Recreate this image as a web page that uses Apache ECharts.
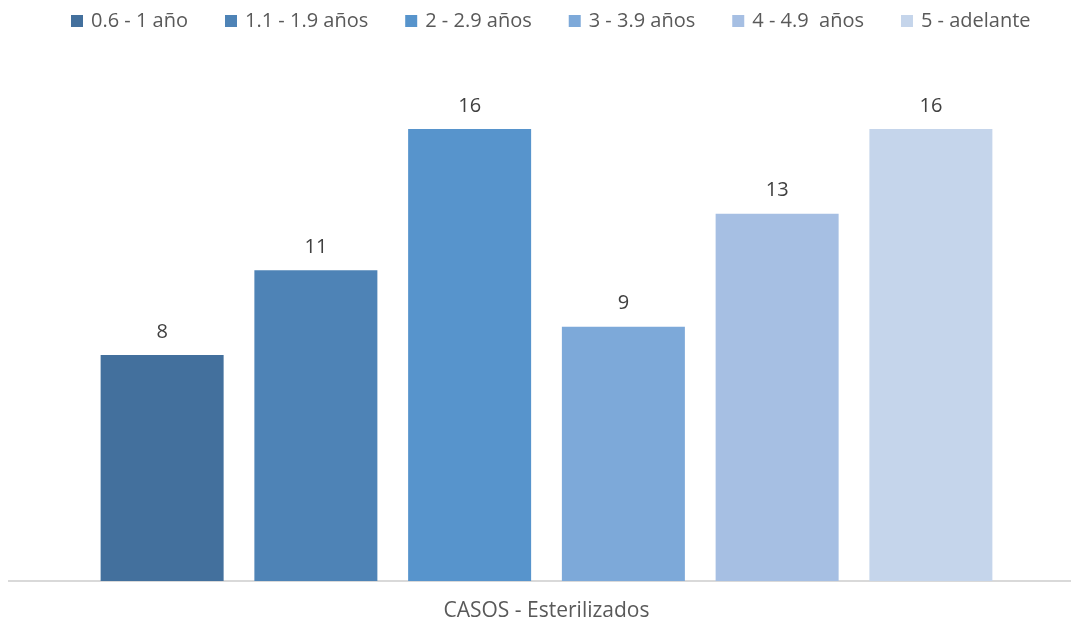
<!DOCTYPE html>
<html>
<head>
<meta charset="utf-8">
<script src="https://cdn.jsdelivr.net/npm/echarts@6/dist/echarts.min.js"></script>
<style>
  html, body { margin: 0; padding: 0; background: #ffffff; }
  #chart { width: 1071px; height: 626px; }
</style>
</head>
<body>
<div id="chart"></div>
<script>
// Esterilizaciones por grupo de edad
const categories = ['CASOS - Esterilizados'];
const groupNames = ['0.6 - 1 año', '1.1 - 1.9 años', '2 - 2.9 años', '3 - 3.9 años', '4 - 4.9  años', '5 - adelante'];
const groupValues = [8, 11, 16, 9, 13, 16];
const groupColors = ['#43709D', '#4E83B6', '#5794CC', '#7DA9D9', '#A6BFE3', '#C5D5EB'];

const FONT = '"Open Sans", Lato, sans-serif';
const GRID = { left: 22, right: 0, top: 72.5, bottom: 45 };

const series = groupNames.map((name, i) => ({
  name: name,
  type: 'bar',
  data: [groupValues[i]],
  barWidth: 123,
  barGap: '25%',
  itemStyle: { color: groupColors[i] },
  label: {
    show: true,
    position: 'top',
    distance: 13,
    color: '#404040',
    fontSize: 20,
    fontFamily: FONT
  }
}));

const chart = echarts.init(document.getElementById('chart'), null, { renderer: 'canvas' });
chart.setOption({
  animation: false,
  backgroundColor: '#ffffff',
  legend: {
    top: 6,
    left: 66,
    itemWidth: 12,
    itemHeight: 12,
    itemGap: 37,
    icon: 'rect',
    textStyle: { color: '#595959', fontSize: 20, fontFamily: FONT, padding: [0, 0, 0, 3] }
  },
  grid: Object.assign({ containLabel: false }, GRID),
  xAxis: {
    type: 'category',
    data: categories,
    axisLine: { lineStyle: { color: '#D9D9D9', width: 2 } },
    axisTick: { show: false },
    axisLabel: { color: '#595959', fontSize: 21, fontFamily: FONT, margin: 20 }
  },
  yAxis: {
    type: 'value',
    min: 0,
    max: 18,
    show: false,
    splitLine: { show: false }
  },
  // short extension of the baseline to the left of the plot area
  graphic: [{
    type: 'line',
    shape: { x1: 8, y1: 626 - GRID.bottom, x2: GRID.left, y2: 626 - GRID.bottom },
    style: { stroke: '#D9D9D9', lineWidth: 2 },
    silent: true
  }],
  series: series
});
</script>
</body>
</html>
